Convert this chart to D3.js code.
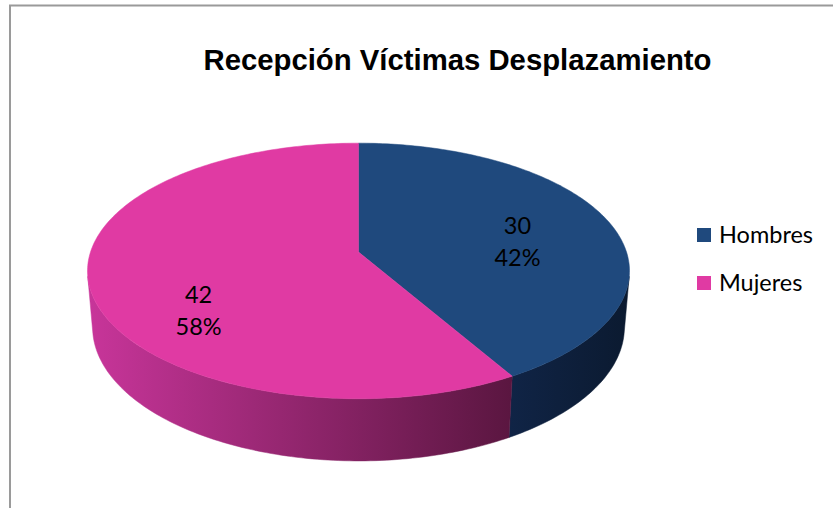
<!DOCTYPE html>
<html>
<head>
<meta charset="utf-8">
<script src="https://cdn.jsdelivr.net/npm/d3@7"></script>
<style>
  html, body { margin: 0; padding: 0; background: #fff; }
  svg { display: block; }
</style>
</head>
<body>
<svg id="chart" width="833" height="508"></svg>
<script>
// data
var categories = ["Hombres", "Mujeres"];
var values = [30, 42];
var title = "Recepción Víctimas Desplazamiento";

var topCol = ["#1F497D", "#E03AA3"],
  sideLeft = ["#102446", "#c8359a"],
  sideRight = ["#0b1a30", "#5a1640"];

var width = 833,
  height = 508;

// 3d pie geometry (perspective view of a flat cylinder)
var cx = 358.5,
  cy = 252,
  R = 268,
  tilt = (27.8 * Math.PI) / 180,
  dist = 5.97,
  thick = 0.24;

var cosT = Math.cos(tilt),
  sinT = Math.sin(tilt);

function project(x, y, z) {
  var sv = -y * cosT + z * sinT;
  var w = y * sinT + z * cosT;
  var s = dist / (dist - w);
  return [cx + R * x * s, cy + R * sv * s];
}

// point on the rim, angle a (0 = back, clockwise seen from above)
function rim(a, r, y) {
  return project(r * Math.sin(a), y, -r * Math.cos(a));
}

var svg = d3.select("#chart");
var defs = svg.append("defs");

// chart border
svg
  .append("rect")
  .attr("x", 10)
  .attr("y", 5.5)
  .attr("width", 900)
  .attr("height", 600)
  .attr("fill", "none")
  .attr("stroke", "#9a9a9a")
  .attr("stroke-width", 2);

svg
  .append("text")
  .attr("x", 457.5)
  .attr("y", 70)
  .attr("text-anchor", "middle")
  .attr("font-family", "'Liberation Sans', Arial, sans-serif")
  .attr("font-weight", "bold")
  .attr("font-size", 29.3)
  .attr("fill", "#000")
  .text(title);

var pie = d3
  .pie()
  .sort(null)
  .value(function (d) {
    return d;
  });
var arcs = pie(values);
var total = d3.sum(values);

// visible part of the side wall
var visA = Math.acos(-1 / (dist * cosT)),
  visB = 2 * Math.PI - visA;

var line = d3.line();

function sample(a0, a1, r, y) {
  var n = Math.max(2, Math.ceil((Math.abs(a1 - a0) * 180) / Math.PI));
  var pts = [];
  for (var i = 0; i <= n; i++) {
    pts.push(rim(a0 + ((a1 - a0) * i) / n, r, y));
  }
  return pts;
}

var sideG = svg.append("g");
var topG = svg.append("g");

arcs.forEach(function (d, i) {
  var b0 = Math.max(d.startAngle, visA),
    b1 = Math.min(d.endAngle, visB);
  if (b1 > b0) {
    var up = sample(b0, b1, 1, 0),
      down = sample(b1, b0, 1, -thick);
    var xs = up.concat(down).map(function (p) {
      return p[0];
    });
    var gid = "side" + i;
    var grad = defs
      .append("linearGradient")
      .attr("id", gid)
      .attr("gradientUnits", "userSpaceOnUse")
      .attr("x1", d3.min(xs))
      .attr("x2", d3.max(xs))
      .attr("y1", 0)
      .attr("y2", 0);
    grad.append("stop").attr("offset", 0).attr("stop-color", sideLeft[i]);
    grad.append("stop").attr("offset", 1).attr("stop-color", sideRight[i]);
    sideG
      .append("path")
      .attr("d", line(up.concat(down)) + "Z")
      .attr("fill", "url(#" + gid + ")")
      .attr("stroke", "url(#" + gid + ")")
      .attr("stroke-width", 0.5);
  }

  var pts = [project(0, 0, 0)].concat(sample(d.startAngle, d.endAngle, 1, 0));
  topG
    .append("path")
    .attr("d", line(pts) + "Z")
    .attr("fill", topCol[i])
    .attr("stroke", topCol[i])
    .attr("stroke-width", 0.5);
});

// data labels
var labelR = [0.63, 0.61],
  labelDrop = [0.02, 0.14];
var fmtPct = d3.format(".0%");
arcs.forEach(function (d, i) {
  var mid = (d.startAngle + d.endAngle) / 2;
  var p = rim(mid, labelR[i], -labelDrop[i]);
  var t = svg
    .append("text")
    .attr("x", p[0])
    .attr("y", p[1])
    .attr("text-anchor", "middle")
    .attr("font-family", "Lato, 'Open Sans', sans-serif")
    .attr("font-size", 23.5)
    .attr("fill", "#000");
  t.append("tspan").attr("x", p[0]).attr("dy", -3).text(d.data);
  t.append("tspan")
    .attr("x", p[0])
    .attr("dy", 32)
    .text(fmtPct(d.data / total));
});

// legend
var legend = svg
  .append("g")
  .selectAll("g")
  .data(categories)
  .join("g")
  .attr("transform", function (d, i) {
    return "translate(697," + (228 + i * 48) + ")";
  });
legend
  .append("rect")
  .attr("width", 14)
  .attr("height", 14)
  .attr("fill", function (d, i) {
    return topCol[i];
  });
legend
  .append("text")
  .attr("x", 22)
  .attr("y", 14.5)
  .attr("font-family", "Lato, 'Open Sans', sans-serif")
  .attr("font-size", 23.5)
  .attr("fill", "#000")
  .text(function (d) {
    return d;
  });
</script>
</body>
</html>
